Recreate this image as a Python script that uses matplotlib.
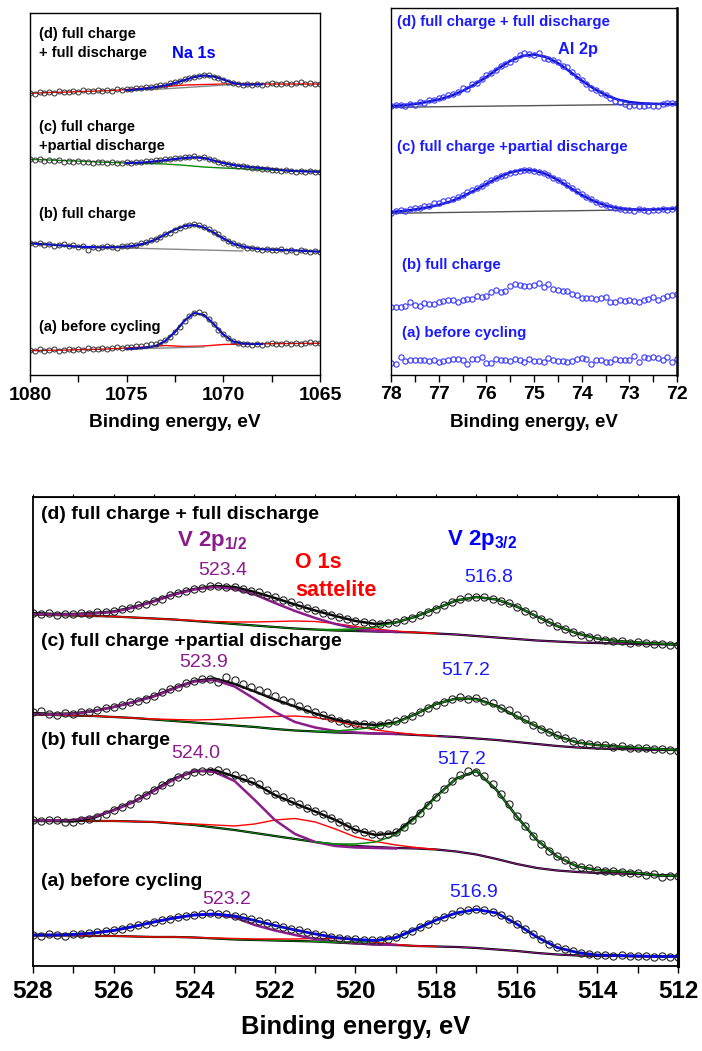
import numpy as np
import matplotlib
matplotlib.use("Agg")
import matplotlib.pyplot as plt
from matplotlib.ticker import MultipleLocator

plt.rcParams['font.family'] = ['Liberation Sans', 'DejaVu Sans']
plt.rcParams['mathtext.fontset'] = 'custom'
plt.rcParams['mathtext.rm'] = 'Liberation Sans'
plt.rcParams['mathtext.bf'] = 'Liberation Sans:bold'
plt.rcParams['mathtext.it'] = 'Liberation Sans:italic'

PURPLE = '#8b1c8b'
BLUE = '#1a1aff'
GREEN = '#0a8a0a'

# ----------------------------------------------------------------------------
# V 2p spectra (intensity in arbitrary units, curves offset for clarity)
v_e_pts = np.linspace(528, 512, 81)      # measured points, 0.2 eV step
v_e_fit = np.linspace(528, 512, 33)      # fit curves, 0.5 eV step

v_pts_d = [357, 356, 357, 355, 356, 356, 357, 356, 358, 358,
           359, 361, 362, 365, 366, 369, 371, 375, 377, 379,
           381, 382, 384, 384, 383, 383, 381, 379, 378, 375,
           373, 370, 368, 365, 362, 360, 357, 355, 353, 351,
           349, 348, 347, 346, 347, 348, 350, 352, 355, 358,
           361, 365, 368, 371, 373, 373, 373, 371, 369, 367,
           363, 359, 356, 351, 348, 344, 341, 338, 335, 333,
           332, 330, 329, 329, 327, 328, 327, 326, 326, 325, 325]
v_pts_c = [258, 259, 256, 255, 257, 256, 258, 258, 260, 262,
           263, 265, 268, 269, 271, 274, 278, 281, 283, 287,
           289, 291, 291, 288, 293, 290, 286, 283, 280, 278,
           274, 270, 268, 264, 261, 258, 255, 252, 249, 247,
           246, 246, 245, 245, 247, 249, 251, 254, 258, 262,
           265, 268, 271, 273, 271, 272, 269, 267, 262, 260,
           255, 251, 245, 241, 238, 235, 232, 229, 227, 226,
           225, 225, 223, 224, 222, 222, 222, 221, 221, 220, 219]
v_pts_b = [150, 149, 150, 150, 148, 148, 150, 151, 153, 156,
           160, 163, 166, 172, 175, 180, 185, 188, 193, 195,
           198, 199, 199, 200, 198, 195, 192, 189, 186, 180,
           176, 173, 169, 166, 162, 159, 156, 152, 148, 144,
           141, 138, 136, 135, 136, 138, 143, 150, 157, 165,
           173, 181, 189, 195, 199, 198, 194, 186, 176, 166,
           154, 144, 134, 126, 119, 114, 110, 105, 103, 102,
           100, 99, 99, 98, 97, 97, 95, 96, 93, 94, 94]
v_pts_a = [35, 34, 36, 35, 34, 36, 36, 37, 38, 39,
           40, 41, 43, 45, 46, 48, 50, 51, 53, 54,
           55, 56, 57, 56, 56, 54, 53, 51, 49, 47,
           45, 43, 41, 40, 38, 36, 35, 33, 32, 31,
           31, 30, 30, 30, 31, 33, 36, 39, 43, 46,
           50, 53, 56, 59, 60, 61, 60, 58, 55, 51,
           46, 41, 36, 31, 26, 23, 21, 19, 17, 16,
           15, 15, 14, 15, 14, 14, 14, 13, 14, 13, 13]

# envelope (sum of all components)
v_env_d = [357, 356, 356, 357, 358.5, 363, 369, 376, 381, 384, 383, 378, 372, 365.5, 359.5, 354, 349,
           346, 347.5, 353.5, 361.5, 369.5, 373, 370.5, 363.5, 353.5, 344, 336.5, 331.5, 329, 327.5, 326.5, 325.5]
v_env_c = [257, 256, 256.5, 259, 263, 268, 274, 282, 289, 291.5, 286, 278.5, 270.5, 263.5, 256.5, 250.5, 246.5,
           245, 247.5, 256, 266, 271.5, 271, 264, 253.5, 243.5, 234, 227.5, 225, 223.5, 222, 221, 220]
v_env_b = [149, 149, 148.5, 152, 160, 168.5, 180, 191.5, 198.5, 200, 193.5, 186.5, 175, 166.5, 158.5, 150, 140,
           135, 137, 153.5, 173.5, 191.5, 199, 180, 153.5, 130, 113.5, 103.5, 100, 98.5, 97, 94.5, 94]
v_env_a = [35, 35, 35.5, 37, 39.5, 43.5, 48, 52, 55, 56, 54, 49.5, 44.5, 40, 36, 32.5, 30.5,
           29.5, 32.5, 41, 50, 57, 60.5, 57, 46, 33, 22.5, 17.5, 15, 14.5, 14, 13.5, 13.5]

# Shirley background
v_bg_d = [355.5, 355, 354.5, 354, 353.5, 352.5, 351.5, 350.5, 349, 347.5, 346, 344.5, 343, 341.5, 340.5, 339.5, 339,
          338.5, 338, 337.5, 336.5, 335.5, 334, 332.5, 331, 329.5, 328.5, 327.5, 327, 326.5, 326, 325.7, 325.5]
v_bg_c = [255.5, 255, 254.5, 254, 253, 252, 250.5, 249, 247.5, 246, 244.5, 243, 241, 239.5, 238.5, 237.5, 237,
          236.5, 236, 235, 234, 233, 231.5, 230, 228, 226, 224, 222.5, 221.5, 221, 220.5, 220, 220]
v_bg_b = [149.5, 149.5, 149.5, 149, 149, 148.5, 148, 146.5, 145, 142.5, 140, 137, 134, 131, 128, 125.5, 124,
          123, 122, 121.5, 120.5, 118.5, 115.5, 111, 106, 102, 99.5, 98, 97, 96.5, 96, 95, 94]
v_bg_a = [34.5, 34.5, 34.5, 34, 34, 33.5, 33, 33, 32.5, 31.5, 30.5, 30, 29.5, 29, 28.5, 27.5, 26.5,
          25.5, 25, 24, 23.5, 23, 22, 20.5, 19, 17, 15.5, 14.5, 14, 14, 13.5, 13.5, 13.5]

# V 2p1/2 component + bg (528 -> 519 eV)
v_p12_d = [356, 355.5, 355.5, 356.5, 358, 362.5, 368.5, 375.5, 380.5, 383, 381, 375.5, 367, 359, 352, 346, 341.5, 339, 338]
v_p12_c = [256, 255.5, 256, 259, 263, 268, 273.5, 281.5, 288.5, 290, 283.5, 271, 258, 248, 242.5, 239, 237.5, 236.5, 236]
v_p12_b = [149.5, 149.5, 150, 153, 159.5, 168, 179, 190.5, 199.5, 198, 189, 170, 150, 136, 128, 124, 122.5, 122, 121.5]
v_p12_a = [35, 35, 35.5, 37, 39.5, 43.5, 48, 52, 55, 55.5, 52.5, 45, 39.5, 35, 31, 28.5, 26.7, 25.5, 25]

# O 1s satellite component + bg (528 -> 518 eV)
v_sat_d = [355.5, 355, 354.5, 354, 353.5, 352.5, 351.5, 350.5, 349.5, 348.5, 348,
           348, 348.5, 349, 348.5, 346.5, 343.5, 341, 339, 337.5, 336.5]
v_sat_c = [255.5, 255, 254.5, 254, 253, 252, 251, 250.5, 250, 250.5, 251.5,
           252.5, 253.5, 254, 252.5, 249, 244, 240, 237.5, 235.5, 234]
v_sat_b = [149.5, 149.5, 149.5, 149, 149, 148.5, 148, 147, 146, 145, 144,
           146, 150, 151.5, 148, 141, 133, 128.5, 125, 122.5, 120.5]
v_sat_a = [34.5, 34.5, 34.5, 34, 34, 33.5, 33, 33, 32.5, 32, 31.5,
           31, 31, 31, 31.5, 31.5, 30, 27.5, 25.5, 24, 23.5]

# V 2p3/2 component + bg (521 -> 512 eV)
v_p32_d = [340.5, 340.5, 341, 343, 347.5, 353.5, 361.5, 369.5, 373, 370.5, 363.5, 353.5, 344, 336.5, 331.5, 329, 327.5, 326.5, 325.5]
v_p32_c = [238.5, 239, 240.5, 243, 247, 256, 266, 271.5, 270.5, 263.5, 253.5, 243.5, 233.5, 227.5, 225, 223.5, 222.5, 221, 220]
v_p32_b = [128, 126, 126, 128, 135, 152, 173, 191.5, 199, 180, 153.5, 130, 113.5, 103.5, 100, 98.5, 97, 94.5, 94]
v_p32_a = [28.5, 28, 28, 28.5, 31.5, 40, 49.5, 57, 60.5, 57, 46, 33, 22.5, 17.5, 15, 14.5, 14, 13.5, 13.5]

# ----------------------------------------------------------------------------
# Na 1s spectra
na_e_pts = np.linspace(1080, 1065, 61)
na_pts_d = [287, 286, 288, 287, 288, 287, 289, 288, 288, 289,
            288, 290, 289, 289, 290, 289, 290, 289, 291, 290,
            291, 291, 292, 292, 293, 293, 294, 295, 295, 297,
            298, 299, 301, 302, 303, 304, 305, 305, 303, 302,
            300, 298, 297, 296, 295, 296, 295, 296, 295, 296,
            297, 296, 296, 297, 296, 297, 298, 296, 297, 296, 296]
na_pts_c = [221, 220, 221, 219, 220, 219, 220, 218, 219, 218,
            219, 218, 218, 217, 218, 218, 217, 218, 217, 217,
            218, 217, 218, 218, 219, 219, 220, 220, 221, 221,
            222, 222, 223, 223, 224, 222, 223, 221, 220, 218,
            217, 216, 215, 214, 214, 213, 212, 212, 211, 211,
            210, 210, 209, 210, 209, 208, 209, 208, 209, 208, 208]
na_pts_b = [137, 136, 137, 135, 136, 134, 135, 136, 134, 135,
            133, 134, 130, 133, 132, 133, 134, 133, 132, 134,
            134, 135, 135, 137, 138, 140, 141, 143, 146, 147,
            150, 152, 154, 155, 156, 155, 153, 151, 148, 146,
            142, 139, 137, 135, 134, 132, 132, 131, 130, 131,
            130, 130, 131, 129, 130, 128, 130, 129, 128, 129, 128]
na_pts_a = [30, 29, 31, 29, 30, 31, 29, 30, 31, 30,
            31, 30, 32, 31, 31, 32, 31, 32, 33, 32,
            33, 33, 34, 34, 35, 36, 36, 38, 40, 43,
            48, 53, 59, 64, 67, 68, 66, 61, 56, 50,
            46, 42, 39, 37, 36, 36, 35, 36, 35, 36,
            37, 36, 36, 37, 36, 37, 36, 37, 38, 37, 37]

na_e_bg = np.linspace(1080, 1065, 16)
na_bg_d = [286.7, 287.5, 288, 288.7, 289.3, 290.5, 292, 293.5, 295, 295.5, 296, 296, 296, 296, 296, 296]
na_bg_c = [220.7, 220, 219.2, 218.5, 217.7, 217, 216.5, 216, 214.7, 213, 212, 211.2, 210.3, 209.5, 209, 208.3]
na_bg_a = [29.3, 29.7, 30, 30.5, 31, 32, 33, 34.5, 33.5, 34, 35.5, 36, 36.2, 36.4, 36.6, 36.7]

na_e_peak = np.linspace(1075, 1068, 15)
na_fit_d = [289.8, 290.5, 291.5, 293, 294.5, 297, 300, 303, 304.5, 303.5, 300.5, 297, 295.5, 295.5, 295.7]
na_fit_a = [31, 31.5, 32.5, 34, 39, 48, 59.5, 67, 65, 56, 45.5, 38.5, 36.5, 36, 36]
na_e_fit_c = np.linspace(1075, 1065, 21)
na_fit_c = [217, 217.2, 217.7, 218.7, 219.8, 221, 222, 222.7, 222, 219.5, 217,
            215, 213.7, 212.7, 212, 211, 210, 209.2, 208.8, 208.5, 208.3]
na_e_fit_b = np.linspace(1080, 1065, 31)
na_fit_b = [136.7, 136, 135.5, 134.7, 134, 133.3, 133, 132.7, 132.7, 133, 133.5, 134.5, 137, 140.5, 145.5, 150.5,
            154, 155, 152.5, 147.5, 141.5, 136.5, 133.5, 131.7, 130.8, 130.4, 130, 129.7, 129.3, 128.8, 128.3]

na_gray_e_d, na_gray_d = [1074, 1069.5], [290, 295.5]
na_gray_e_b, na_gray_b = [1077, 1073, 1069], [133, 131, 129]
na_gray_e_a, na_gray_a = [1075, 1071], [31, 33]

# ----------------------------------------------------------------------------
# Al 2p spectra
al_e_pts = np.linspace(78, 72, 61)
al_pts_d = [274, 275, 275, 274, 276, 275, 278, 277, 280, 280,
            282, 283, 285, 286, 288, 292, 291, 296, 297, 301,
            305, 307, 310, 314, 316, 318, 321, 325, 327, 326,
            325, 327, 322, 321, 320, 318, 314, 313, 308, 304,
            300, 296, 292, 290, 287, 285, 282, 279, 278, 276,
            274, 275, 274, 274, 275, 274, 274, 276, 277, 277, 277]
al_pts_c = [167, 169, 170, 169, 171, 172, 172, 174, 174, 177,
            177, 179, 180, 181, 183, 185, 188, 190, 192, 194,
            197, 200, 202, 204, 205, 207, 208, 209, 210, 210,
            209, 208, 207, 205, 202, 200, 198, 195, 192, 189,
            186, 183, 181, 178, 176, 175, 173, 172, 171, 170,
            170, 169, 171, 170, 169, 170, 170, 171, 170, 171, 172]
al_pts_b = [73, 73, 73, 74, 78, 75, 74, 77, 76, 76,
            78, 79, 80, 80, 78, 80, 81, 81, 84, 83,
            84, 88, 90, 88, 89, 94, 96, 95, 94, 94,
            95, 97, 93, 96, 91, 90, 89, 89, 86, 85,
            82, 82, 82, 81, 82, 83, 78, 78, 80, 79,
            80, 79, 78, 80, 81, 83, 80, 82, 84, 85, 86]
al_pts_a = [17, 16, 23, 19, 20, 20, 20, 20, 19, 20,
            18, 19, 20, 21, 21, 20, 16, 21, 21, 23,
            17, 17, 21, 20, 20, 19, 21, 20, 18, 21,
            19, 19, 18, 22, 20, 19, 19, 18, 19, 21,
            22, 21, 16, 20, 20, 18, 18, 21, 20, 20,
            20, 24, 18, 23, 22, 23, 22, 20, 23, 18, 21]

al_e_fit = np.linspace(78, 72, 25)
al_fit_d = [274, 274.7, 276, 278, 280.5, 284, 289, 295.5, 303, 311.5, 319, 324, 325.5,
            323, 317, 308.5, 299.5, 291.5, 285, 280.5, 278, 276.7, 276.2, 276, 276]
al_fit_c = [168, 169, 170.5, 172.5, 175, 178.5, 183.5, 189.5, 196, 202.5, 207.5, 210, 209.5,
            206, 200, 192.5, 185, 179, 174.5, 172, 170.7, 170.4, 170.5, 171, 171.5]
al_bg_e = [78, 72]
al_bg_d = [272.7, 276]
al_bg_c = [166.7, 170.7]


# ----------------------------------------------------------------------------
fig = plt.figure(figsize=(7.02, 10.51), dpi=100)
ax_na = fig.add_axes([0.0427, 0.6432, 0.4131, 0.3444])
ax_al = fig.add_axes([0.557, 0.6432, 0.4074, 0.3492])
ax_v = fig.add_axes([0.047, 0.0809, 0.9188, 0.4462])


def style_axis(ax, xlim, ylim, major, minor, tick_fs, label_fs, pad, labelpad, lw=1.0):
    ax.set_xlim(*xlim)
    ax.set_ylim(*ylim)
    ax.set_yticks([])
    ax.xaxis.set_major_locator(MultipleLocator(major))
    ax.xaxis.set_minor_locator(MultipleLocator(minor))
    ax.tick_params(axis='x', which='both', direction='out', length=5, width=1.0,
                   labelsize=tick_fs, pad=pad)
    for lab in ax.get_xticklabels():
        lab.set_fontweight('bold')
    ax.set_xlabel("Binding energy, eV", fontsize=label_fs, fontweight='bold', labelpad=labelpad)
    for s in ax.spines.values():
        s.set_linewidth(lw)


# ---------------- Na 1s ----------------
ax = ax_na
circ = dict(ls='none', marker='o', ms=3.6, mfc='none', mec='#333333', mew=0.7)
ax.plot(na_e_bg, na_bg_d, color='red', lw=1.0)
ax.plot(na_gray_e_d, na_gray_d, color='#888888', lw=1.0)
ax.plot(na_e_peak, na_fit_d, color='blue', lw=1.6)
ax.plot(na_e_pts, na_pts_d, **circ)

ax.plot(na_e_bg, na_bg_c, color=GREEN, lw=1.0)
ax.plot(na_e_fit_c, na_fit_c, color='blue', lw=1.6)
ax.plot(na_e_pts, na_pts_c, **circ)

ax.plot(na_gray_e_b, na_gray_b, color='#888888', lw=1.0)
ax.plot(na_e_fit_b, na_fit_b, color='blue', lw=1.6)
ax.plot(na_e_pts, na_pts_b, **circ)

ax.plot(na_e_bg, na_bg_a, color='red', lw=1.0)
ax.plot(na_gray_e_a, na_gray_a, color='#888888', lw=1.0)
ax.plot(na_e_peak, na_fit_a, color='blue', lw=1.6)
ax.plot(na_e_pts, na_pts_a, **circ)

style_axis(ax, (1080, 1065), (5, 367), 5, 2.5, 14, 13.8, 4, 7, lw=1.0)
kw = dict(fontsize=10.5, fontweight='bold', ha='left', va='center')
ax.text(1079.53, 346, "(d) full charge", **kw)
ax.text(1079.53, 327, "+ full discharge", **kw)
ax.text(1071.53, 327, "Na 1s", fontsize=11.7, fontweight='bold', color='blue', ha='center', va='center')
ax.text(1079.53, 253, "(c) full charge", **kw)
ax.text(1079.53, 234, "+partial discharge", **kw)
ax.text(1079.53, 166, "(b) full charge", **kw)
ax.text(1079.53, 53.3, "(a) before cycling", **kw)

# ---------------- Al 2p ----------------
ax = ax_al
circ = dict(ls='none', marker='o', ms=3.8, mfc='none', mec='#3838ff', mew=0.8)
for bg, fit, pts in [(al_bg_d, al_fit_d, al_pts_d), (al_bg_c, al_fit_c, al_pts_c)]:
    ax.plot(al_bg_e, bg, color='#555555', lw=1.0)
    ax.plot(al_e_fit, fit, color='#1010c8', lw=1.8)
    ax.plot(al_e_pts, pts, **circ)
ax.plot(al_e_pts, al_pts_b, **circ)
ax.plot(al_e_pts, al_pts_a, **circ)

style_axis(ax, (78, 72), (5, 372), 1, 0.5, 14, 13.5, 3, 8, lw=1.0)
ax.spines['right'].set_linewidth(1.8)
kw = dict(fontsize=10.8, fontweight='bold', ha='left', va='center', color=BLUE)
ax.text(77.88, 358.3, "(d) full charge + full discharge", **kw)
ax.text(74.08, 330, "Al 2p", fontsize=11.8, fontweight='bold', color=BLUE, ha='center', va='center')
ax.text(77.88, 233.3, "(c) full charge +partial discharge", **kw)
ax.text(77.78, 115, "(b) full charge", **kw)
ax.text(77.78, 46.7, "(a) before cycling", **kw)

# ---------------- V 2p ----------------
ax = ax_v
circ = dict(ls='none', marker='o', ms=5.2, mfc='none', mec='#222222', mew=0.8)
spectra = [
    (v_pts_d, v_env_d, v_bg_d, v_p12_d, v_sat_d, v_p32_d, 'black'),
    (v_pts_c, v_env_c, v_bg_c, v_p12_c, v_sat_c, v_p32_c, 'black'),
    (v_pts_b, v_env_b, v_bg_b, v_p12_b, v_sat_b, v_p32_b, 'black'),
    (v_pts_a, v_env_a, v_bg_a, v_p12_a, v_sat_a, v_p32_a, 'blue'),
]
for pts, env, bg, p12, sat, p32, env_color in spectra:
    ax.plot(v_e_fit, bg, color='black', lw=1.6)
    ax.plot(v_e_fit[:17], bg[:17], color=GREEN, lw=0.7)
    ax.plot(v_e_fit[16:], bg[16:], color=PURPLE, lw=0.7)
    ax.plot(v_e_fit[:21], sat, color='red', lw=1.0)
    if env_color == 'black':
        ax.plot(v_e_fit, env, color='black', lw=1.8)
    ax.plot(v_e_fit[:19], p12, color=PURPLE, lw=1.8)
    ax.plot(v_e_fit[14:], p32, color=GREEN, lw=1.1)
    if env_color != 'black':
        ax.plot(v_e_fit, env, color='blue', lw=2.0)
    ax.plot(v_e_pts, pts, **circ)

style_axis(ax, (528, 512), (4, 473), 2, 1, 17.5, 18.4, 5, 9, lw=1.3)
ax.spines['right'].set_linewidth(2.2)
top = ax.secondary_xaxis('top')
top.xaxis.set_major_locator(MultipleLocator(1))
top.tick_params(axis='x', direction='out', length=2.5, width=0.8, labeltop=False)
top.set_xticklabels([])

kw = dict(fontsize=14, fontweight='bold', ha='left', va='center')
ax.text(527.81, 456, "(d) full charge + full discharge", **kw)
ax.text(527.81, 328.3, "(c) full charge +partial discharge", **kw)
ax.text(527.81, 229.3, "(b) full charge", **kw)
ax.text(527.81, 88.3, "(a) before cycling", **kw)

ax.text(524.44, 424, r"V 2p$_{\mathbf{1/2}}$", fontsize=16, fontweight='bold', color=PURPLE, ha='left', va='baseline')
ax.text(517.74, 425, r"V 2p$_{\mathbf{3/2}}$", fontsize=16, fontweight='bold', color='blue', ha='left', va='baseline')
ax.text(521.5, 402.3, "O 1s", fontsize=15.5, fontweight='bold', color='red', ha='left', va='baseline')
ax.text(521.5, 374, "sattelite", fontsize=15.5, fontweight='bold', color='red', ha='left', va='baseline')

kw = dict(fontsize=14, ha='center', va='center')
ax.text(523.30, 400, "523.4", color=PURPLE, **kw)
ax.text(516.69, 393, "516.8", color=BLUE, **kw)
ax.text(523.77, 307.3, "523.9", color=PURPLE, **kw)
ax.text(517.27, 299.3, "517.2", color=BLUE, **kw)
ax.text(523.96, 216.7, "524.0", color=PURPLE, **kw)
ax.text(517.36, 210, "517.2", color=BLUE, **kw)
ax.text(523.19, 70, "523.2", color=PURPLE, **kw)
ax.text(517.07, 77.3, "516.9", color=BLUE, **kw)

plt.savefig("out.png", dpi=100)
